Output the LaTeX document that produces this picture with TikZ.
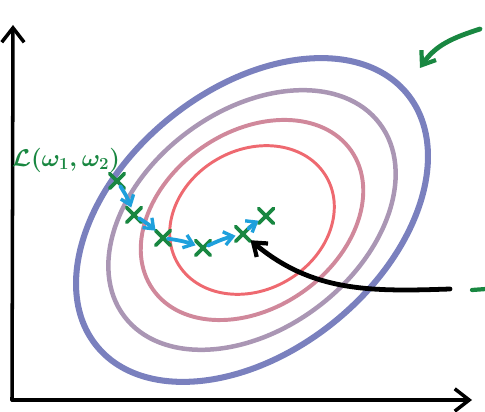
\documentclass[tikz,border=0pt]{standalone}
\usepackage{amsmath,amssymb}
\usepackage{tikz}
\usetikzlibrary{arrows.meta,shapes.misc}

\definecolor{ringA}{RGB}{238,105,112}
\definecolor{ringB}{RGB}{208,136,155}
\definecolor{ringC}{RGB}{170,150,180}
\definecolor{ringD}{RGB}{122,128,190}
\definecolor{penblue}{RGB}{30,160,220}
\definecolor{pengreen}{RGB}{25,135,65}

\begin{document}
\begin{tikzpicture}[x=0.025cm,y=0.025cm,line cap=round,line join=round,
  axis/.style={black,line width=2.5pt,-{Straight Barb[length=3.6mm,width=5.6mm,line width=2.5pt]}},
  wpt/.style={cross out,draw=pengreen,line width=2.6pt,minimum size=8pt,inner sep=0pt},
  gdstep/.style={penblue,line width=2.7pt,shorten <=-2pt,-{Straight Barb[length=2.2mm,width=3.4mm,line width=2.4pt]}},
  pointer/.style={line width=3.4pt,-{Straight Barb[length=3mm,width=4.4mm,line width=3pt]}}]
\useasboundingbox (0,0) rectangle (485,412);

% level sets of the loss
\foreach \ra/\rb/\ang/\col/\lw in {200/131/39/ringD/4.3pt,160/109/37/ringC/3.2pt,121/88/35/ringB/2.8pt,86/70/30/ringA/2.1pt}
  \draw[draw=\col,line width=\lw,rotate around={\ang:(252,192)}] (252,192) ellipse [x radius=\ra, y radius=\rb];

% axes
\coordinate (origin) at (12,12);
\coordinate (ytop) at (13,387);
\coordinate (xend) at (472,12);
\draw[axis] (origin) -- (ytop);
\draw[axis] (origin) -- (xend);

% gradient descent steps
\node[wpt] (p1) at (117,231) {};
\node[wpt] (p2) at (134,197) {};
\node[wpt] (p3) at (163,174) {};
\node[wpt] (p4) at (203,164) {};
\node[wpt] (p5) at (243,178) {};
\node[wpt] (p6) at (266,196) {};
\foreach \a/\b in {p1/p2,p2/p3,p3/p4,p4/p5,p5/p6}
  \draw[gdstep] (\a) to[bend left=6] (\b);

\node[text=pengreen,font=\LARGE\boldmath] (loss) at (66,252) {$\mathcal{L}(\omega_1,\omega_2)$};

% pointers
\coordinate (tail) at (450,123);
\draw[pointer,black] (tail) to[out=182,in=-40] (p5);
\coordinate (gtail) at (480,383);
\coordinate (gtip) at (420,344);
\draw[pointer,pengreen] (gtail) to[out=198,in=56] (gtip);
\coordinate (dashL) at (472,122);
\coordinate (dashR) at (486,123);
\draw[pengreen,line width=3pt] (dashL) -- (dashR);
\end{tikzpicture}
\end{document}
